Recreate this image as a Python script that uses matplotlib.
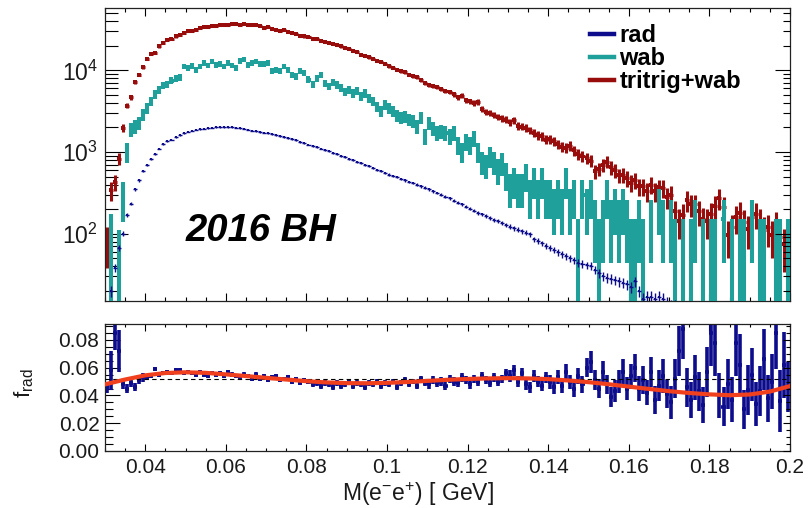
import numpy as np
import matplotlib
matplotlib.use('Agg')
import matplotlib.pyplot as plt
from matplotlib.ticker import MultipleLocator, LogLocator, NullFormatter, FormatStrFormatter
from matplotlib.lines import Line2D

plt.rcParams['font.family'] = ['Liberation Sans', 'DejaVu Sans']
plt.rcParams['mathtext.fontset'] = 'custom'
plt.rcParams['mathtext.rm'] = 'Liberation Sans'
plt.rcParams['mathtext.it'] = 'Liberation Sans:italic'
plt.rcParams['mathtext.bf'] = 'Liberation Sans:bold'

# ---------------- data (bins of 1 MeV from 0.030 to 0.200 GeV) ----------------
bin_lo = 0.030
bin_w = 0.001

rad = [10, 20, 38, 67, 100, 168, 233, 348, 450, 580,
       700, 830, 950, 1100, 1260, 1350, 1420, 1520, 1600, 1700,
       1780, 1820, 1870, 1900, 1930, 1960, 1980, 2000, 2010, 2000,
       2010, 2000, 1990, 1960, 1930, 1880, 1820, 1800, 1760, 1730,
       1700, 1650, 1610, 1570, 1530, 1490, 1440, 1390, 1330, 1280,
       1230, 1190, 1140, 1100, 1060, 1020, 980, 940, 900, 865,
       830, 795, 760, 730, 700, 670, 640, 610, 580, 555,
       530, 505, 490, 470, 450, 430, 415, 400, 380, 365,
       350, 330, 315, 300, 285, 270, 255, 240, 228, 215,
       203, 192, 180, 172, 163, 155, 148, 142, 135, 128,
       122, 117, 112, 107, 103, 98, 85, 81, 76, 71,
       67, 63, 59, 56, 53, 50, 47, 44, 43, 41,
       40, 36, 33, 30, 29, 28, 27, 26, 25, 24,
       22, 26, 20, 16, 17, 17, 16, 17, 16, 14,
       13, 13, 12, 12, 11, 11, 10, 10, 10, 9,
       9, 9, 8, 8, 8, 8, 7, 7, 7, 7,
       6, 6, 6, 6, 6, 5, 5, 5, 5, 5]

wab = [0, 93, 0, 50, 284, 1020, 1900, 2070, 2270, 2880,
       3470, 4170, 5130, 5760, 6530, 6760, 7500, 7900, 8200, 11200,
       10700, 11400, 10200, 11200, 12300, 11500, 12900, 11700, 12000, 11200,
       12300, 11500, 10700, 13100, 13500, 11700, 12300, 12900, 12000, 12000,
       12300, 9800, 10200, 9800, 11200, 10200, 8860, 8500, 9800, 9290,
       7700, 6760, 8070, 8860, 7000, 6380, 7200, 6680, 6100, 5440,
       5760, 5280, 5600, 4800, 5280, 4600, 4170, 3630, 3160, 3800,
       3470, 3160, 2800, 2630, 2700, 2500, 2380, 2070, 2630, 1550,
       2270, 1970, 1710, 1800, 1710, 1550, 1710, 1230, 1020, 1350,
       1230, 1490, 1020, 770, 700, 890, 770, 610, 740, 530,
       375, 450, 375, 375, 525, 300, 450, 300, 450, 300,
       300, 225, 300, 225, 450, 225, 300, 75, 300, 225,
       300, 150, 75, 150, 300, 150, 225, 150, 225, 150,
       75, 75, 150, 75, 0, 150, 0, 225, 150, 0,
       150, 75, 0, 75, 0, 75, 150, 0, 75, 0,
       75, 75, 0, 150, 0, 75, 0, 75, 75, 0,
       150, 0, 75, 75, 0, 0, 75, 75, 0, 75]

tritrig_wab = [80, 340, 430, 830, 1970, 3700, 4670, 7130, 8860, 11000,
               13800, 15900, 16300, 19700, 21500, 23500, 24500, 26000, 27000, 28500,
               30000, 30500, 31500, 33000, 33500, 34000, 35200, 34800, 35500, 36000,
               35500, 36800, 36500, 36300, 36700, 36000, 35500, 35800, 34500, 33000,
               33800, 32500, 31500, 30600, 31000, 29500, 28800, 27500, 26600, 26000,
               25300, 24500, 24000, 23000, 22300, 21500, 21000, 20300, 19700, 19000,
               18300, 17500, 16700, 15500, 15200, 14500, 13800, 13200, 12700, 12000,
               11300, 10800, 10200, 9800, 9500, 8860, 8500, 8200, 7600, 7000,
               6680, 6400, 6300, 5900, 5600, 5440, 5100, 4700, 4900, 4300,
               4170, 4000, 4100, 3400, 3100, 3000, 2850, 2700, 2600, 2500,
               2300, 2450, 2100, 2050, 1970, 1850, 1700, 1600, 1550, 1420,
               1450, 1350, 1250, 1150, 1120, 1200, 1050, 950, 900, 850,
               780, 580, 620, 700, 760, 650, 600, 520, 530, 480,
               420, 450, 380, 380, 330, 400, 330, 370, 365, 280,
               300, 190, 142, 170, 260, 230, 229, 190, 150, 142,
               175, 220, 275, 210, 97, 120, 158, 180, 140, 115,
               158, 175, 142, 110, 120, 97, 130, 90, 74, 85]

f_rad = [0.046, 0.058, 0.085, 0.072, 0.048, 0.045, 0.049, 0.046, 0.051, 0.053,
         0.053, 0.054, 0.059, 0.055, 0.056, 0.057, 0.056, 0.058, 0.058, 0.056,
         0.057, 0.056, 0.055, 0.057, 0.055, 0.054, 0.056, 0.055, 0.056, 0.054,
         0.057, 0.055, 0.054, 0.053, 0.055, 0.054, 0.052, 0.055, 0.052, 0.054,
         0.051, 0.053, 0.054, 0.051, 0.052, 0.053, 0.050, 0.052, 0.049, 0.051,
         0.050, 0.048, 0.049, 0.047, 0.049, 0.048, 0.046, 0.049, 0.047, 0.048,
         0.050, 0.047, 0.049, 0.048, 0.046, 0.049, 0.048, 0.050, 0.047, 0.049,
         0.048, 0.050, 0.046, 0.049, 0.051, 0.048, 0.050, 0.047, 0.052, 0.049,
         0.048, 0.051, 0.049, 0.050, 0.047, 0.052, 0.050, 0.049, 0.053, 0.051,
         0.048, 0.052, 0.050, 0.054, 0.051, 0.049, 0.053, 0.050, 0.052, 0.056,
         0.054, 0.058, 0.050, 0.056, 0.048, 0.046, 0.054, 0.050, 0.047, 0.053,
         0.050, 0.046, 0.053, 0.047, 0.057, 0.050, 0.045, 0.054, 0.048, 0.060,
         0.064, 0.051, 0.045, 0.057, 0.048, 0.039, 0.043, 0.050, 0.057, 0.045,
         0.054, 0.060, 0.045, 0.051, 0.042, 0.057, 0.037, 0.047, 0.054, 0.041,
         0.035, 0.052, 0.072, 0.088, 0.046, 0.037, 0.053, 0.043, 0.033, 0.057,
         0.085, 0.078, 0.040, 0.032, 0.048, 0.037, 0.078, 0.062, 0.030, 0.044,
         0.055, 0.034, 0.043, 0.066, 0.038, 0.050, 0.085, 0.036, 0.062, 0.046]

f_rad_err = ([0.004, 0.014, 0.012, 0.015] + [0.003] * 6 + [0.0016] * 40 +
             [0.002] * 30 + [0.003] * 20 + [0.004] * 10 +
             [0.005, 0.005, 0.005, 0.005, 0.006, 0.005, 0.006, 0.006, 0.006, 0.007,
              0.008, 0.007, 0.007, 0.008, 0.007, 0.007, 0.008, 0.008, 0.009, 0.008,
              0.009, 0.010, 0.009, 0.010, 0.009, 0.011, 0.010, 0.011, 0.012, 0.010,
              0.012, 0.014, 0.018, 0.022, 0.014, 0.013, 0.016, 0.014, 0.013, 0.018,
              0.024, 0.024, 0.016, 0.014, 0.018, 0.016, 0.024, 0.022, 0.014, 0.018,
              0.019, 0.016, 0.018, 0.022, 0.017, 0.020, 0.026, 0.022, 0.024, 0.018])

# per-event weights used for the statistical error bars of each sample
w_rad, w_wab, w_tri = 0.5, 75.0, 22.0

fit_x = [0.030, 0.035, 0.040, 0.045, 0.050, 0.055, 0.060, 0.065, 0.070, 0.075,
         0.080, 0.085, 0.090, 0.095, 0.100, 0.105, 0.110, 0.115, 0.120, 0.125,
         0.130, 0.135, 0.140, 0.145, 0.150, 0.155, 0.160, 0.165, 0.170, 0.175,
         0.180, 0.185, 0.190, 0.195, 0.200]
fit_y = [0.0480, 0.0515, 0.0545, 0.0562, 0.0567, 0.0563, 0.0552, 0.0540, 0.0527, 0.0515,
         0.0503, 0.0494, 0.0489, 0.0488, 0.0491, 0.0497, 0.0505, 0.0513, 0.0519, 0.0523,
         0.0525, 0.0523, 0.0518, 0.0508, 0.0496, 0.0481, 0.0464, 0.0447, 0.0431, 0.0418,
         0.0408, 0.0402, 0.0407, 0.0428, 0.0468]
f_rad_mean = 0.052

labels = ['rad', 'wab', 'tritrig+wab']

C_RAD = '#0c0c8c'
C_WAB = '#20a09b'
C_TRI = '#980c0c'
C_FIT = '#f0401e'
TXT = '#1a1a1a'

# ---------------- figure ----------------
W, H = 809, 508
fig = plt.figure(figsize=(W / 100, H / 100), dpi=100)
ax1 = fig.add_axes([105 / W, 1 - 301 / H, 685 / W, 293 / H])
ax2 = fig.add_axes([105 / W, 1 - 451 / H, 685 / W, 127 / H])

n = len(rad)
xc = np.array([bin_lo + bin_w * (i + 0.5) for i in range(n)])


def draw_hist(ax, vals, w, color, ms, elw, z):
    v = np.asarray(vals, dtype=float)
    m = v > 0
    err = np.sqrt(v[m] * w)
    lo = np.minimum(err, v[m] * 0.999)
    ax.errorbar(xc[m], v[m], xerr=bin_w / 2, yerr=[lo, err], fmt='s', ms=ms,
                mew=0, color=color, ecolor=color, elinewidth=elw, capsize=0, zorder=z)


ax1.set_yscale('log')
draw_hist(ax1, tritrig_wab, w_tri, C_TRI, 3.0, 2.2, 2)
draw_hist(ax1, wab, w_wab, C_WAB, 2.8, 2.9, 3)
draw_hist(ax1, rad, w_rad, C_RAD, 2.0, 1.0, 4)
ax1.set_xlim(0.03, 0.2)
ax1.set_ylim(15, 58000)

handles = [Line2D([], [], color=c, lw=3.2) for c in (C_RAD, C_WAB, C_TRI)]
ax1.legend(handles, labels, loc='upper left', bbox_to_anchor=(590 / W, 1 - 24 / H),
           bbox_transform=fig.transFigure, frameon=False, handlelength=1.0,
           handletextpad=0.25, borderpad=0, borderaxespad=0, labelspacing=0.0,
           prop=dict(weight='bold', size=17))

fig.text(186 / W, 1 - 241 / H, '2016 BH', fontsize=27.5, fontweight='bold',
         fontstyle='italic', color='black', ha='left', va='baseline')

# ratio panel
ax2.errorbar(xc, f_rad, xerr=bin_w / 2, yerr=f_rad_err, fmt='none', ecolor=C_RAD,
             elinewidth=2.6, capsize=0, zorder=2)
ax2.axhline(f_rad_mean, color='black', lw=0.8, dashes=(4, 3), zorder=3)
ax2.plot(fit_x, fit_y, color=C_FIT, lw=3.0, zorder=4, solid_capstyle='round')
ax2.set_xlim(0.03, 0.2)
ax2.set_ylim(0, 0.0915)

# ---------------- axes styling ----------------
for ax in (ax1, ax2):
    for s in ax.spines.values():
        s.set_linewidth(0.9)
        s.set_color('#222222')
    ax.xaxis.set_major_locator(MultipleLocator(0.02))
    ax.xaxis.set_minor_locator(MultipleLocator(0.005))

ax1.yaxis.set_major_locator(LogLocator(base=10, numticks=10))
ax1.yaxis.set_minor_locator(LogLocator(base=10, subs=np.arange(2, 10), numticks=20))
ax1.yaxis.set_minor_formatter(NullFormatter())
ax1.tick_params(axis='x', which='major', direction='in', length=5.8, width=0.8,
                top=True, bottom=True, labelbottom=False)
ax1.tick_params(axis='x', which='minor', direction='in', length=2.9, width=0.8,
                top=True, bottom=True)
ax1.tick_params(axis='y', which='major', direction='in', length=16.5, width=0.8,
                left=True, right=False, labelsize=16.5, labelcolor=TXT, pad=5)
ax1.tick_params(axis='y', which='minor', direction='in', length=9.0, width=0.8,
                left=True, right=False)

ax1r = ax1.twinx()
ax1r.set_yscale('log')
ax1r.set_ylim(ax1.get_ylim())
ax1r.yaxis.set_major_locator(LogLocator(base=10, numticks=10))
ax1r.yaxis.set_minor_locator(LogLocator(base=10, subs=np.arange(2, 10), numticks=20))
ax1r.tick_params(axis='y', which='major', direction='in', length=10.8, width=0.8,
                 labelright=False)
ax1r.tick_params(axis='y', which='minor', direction='in', length=5.0, width=0.8,
                 labelright=False)
ax1r.yaxis.set_minor_formatter(NullFormatter())
for s in ax1r.spines.values():
    s.set_visible(False)

ax2.yaxis.set_major_locator(MultipleLocator(0.02))
ax2.yaxis.set_minor_locator(MultipleLocator(0.005))
ax2.yaxis.set_major_formatter(FormatStrFormatter('%.2f'))
ax2.xaxis.set_major_formatter(plt.FuncFormatter(
    lambda v, p: ('%.2f' % v).rstrip('0').rstrip('.') if v > 0 else '0'))
ax2.tick_params(axis='x', which='major', direction='in', length=5.0, width=0.8,
                top=True, bottom=True, labelsize=15, labelcolor=TXT, pad=5)
ax2.tick_params(axis='x', which='minor', direction='in', length=2.5, width=0.8,
                top=True, bottom=True)
ax2.tick_params(axis='y', which='major', direction='in', length=10.8, width=0.8,
                left=True, right=False, labelsize=15, labelcolor=TXT, pad=4)
ax2.tick_params(axis='y', which='minor', direction='in', length=5.8, width=0.8,
                left=True, right=False)

ax2r = ax2.twinx()
ax2r.set_ylim(ax2.get_ylim())
ax2r.yaxis.set_major_locator(MultipleLocator(0.02))
ax2r.yaxis.set_minor_locator(MultipleLocator(0.005))
ax2r.tick_params(axis='y', which='major', direction='in', length=5.0, width=0.8,
                 labelright=False)
ax2r.tick_params(axis='y', which='minor', direction='in', length=2.9, width=0.8,
                 labelright=False)
for s in ax2r.spines.values():
    s.set_visible(False)

fig.text(418 / W, 1 - 494 / H, r'M(e$^{-}$e$^{+}$) [ GeV]', fontsize=16.5, color=TXT,
         ha='center', va='center')
fig.text(24 / W, 1 - 383 / H, r'f$_{\rm rad}$', fontsize=16, color=TXT,
         rotation=90, ha='center', va='center')

fig.savefig('out.png', dpi=100)
